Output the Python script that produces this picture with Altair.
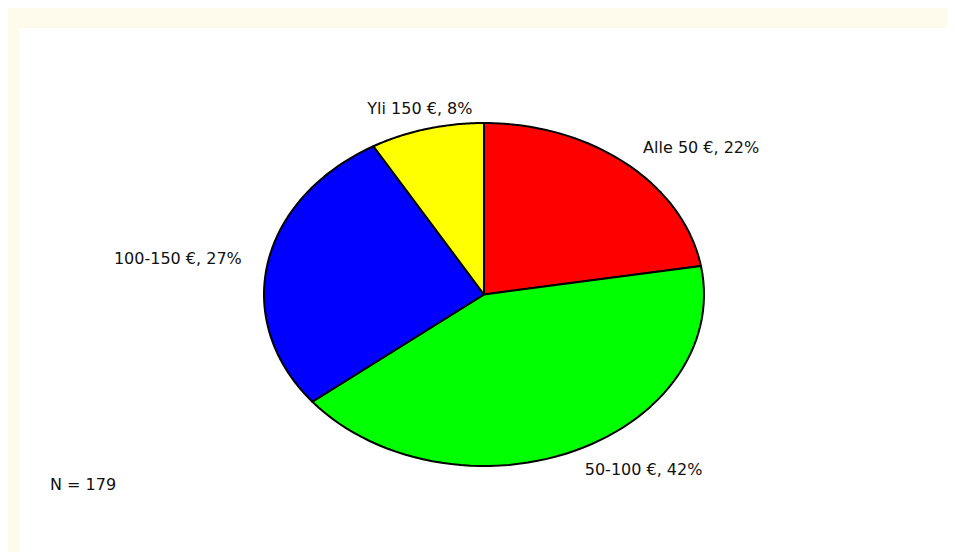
import altair as alt
import pandas as pd

# ---- data ----
categories = ["Alle 50 €", "50-100 €", "100-150 €", "Yli 150 €"]
counts = [40, 75, 49, 15]          # N = 179
percents = [22, 42, 27, 8]
colors = ["#FF0000", "#00FF00", "#0000FF", "#FFFF00"]
n_label = "N = 179"

df = pd.DataFrame({
    "cat": categories,
    "count": counts,
    "order": list(range(len(categories))),
    "label": [f"{c}, {p}%" for c, p in zip(categories, percents)],
})

W, H = 928, 524
RX, RY = 220, 171.5
CX, CY = 465, 266.5
xscale = alt.Scale(domain=[-CX / RX, (W - CX) / RX], nice=False, zero=False)
yscale = alt.Scale(domain=[-(H - CY) / RY, CY / RY], nice=False, zero=False)
cscale = alt.Scale(domain=categories, range=colors)

base = alt.Chart(df).transform_joinaggregate(
    total="sum(count)"
).transform_window(
    cum="sum(count)", sort=[alt.SortField("order")], frame=[None, 0]
).transform_calculate(
    a1="2*PI*(datum.cum - datum.count)/datum.total",
    a2="2*PI*datum.cum/datum.total",
)

slices = base.transform_calculate(
    step="sequence(0, 63)"
).transform_flatten(["step"]).transform_calculate(
    t="clamp((datum.step - 1)/60, 0, 1)",
).transform_calculate(
    ang="datum.a1 + (datum.a2 - datum.a1)*datum.t",
).transform_calculate(
    px="(datum.step == 0 || datum.step == 62) ? 0 : sin(datum.ang)",
    py="(datum.step == 0 || datum.step == 62) ? 0 : cos(datum.ang)",
).mark_line(stroke="black", strokeWidth=2, strokeJoin="round").encode(
    x=alt.X("px:Q", scale=xscale, axis=None),
    y=alt.Y("py:Q", scale=yscale, axis=None),
    fill=alt.Fill("cat:N", scale=cscale, legend=None),
    detail="cat:N",
    order=alt.Order("step:Q"),
)

lab = base.transform_calculate(
    mid="(datum.a1 + datum.a2)/2",
).transform_calculate(
    s="sin(datum.mid)",
    lx="1.12*sin(datum.mid)",
    ly="1.12*cos(datum.mid)",
)

FONT = "DejaVu Sans"

def text_layer(flt, align):
    return lab.transform_filter(flt).mark_text(
        align=align, baseline="middle", font=FONT, fontSize=16, color="#111111"
    ).encode(
        x=alt.X("lx:Q", scale=xscale, axis=None),
        y=alt.Y("ly:Q", scale=yscale, axis=None),
        text="label:N",
    )

left = text_layer("datum.s > 0.3", "left")
right = text_layer("datum.s < -0.3", "right")
center = text_layer("abs(datum.s) <= 0.3", "center")

n_text = alt.Chart(pd.DataFrame({"t": [n_label]})).mark_text(
    align="left", baseline="middle", font=FONT, fontSize=16, color="#111111"
).encode(x=alt.value(31), y=alt.value(457), text="t:N")

chart = alt.layer(slices, left, right, center, n_text).properties(
    width=W, height=H,
    background="#FFFBEC",
    padding={"left": 11, "top": 20, "right": 0, "bottom": 0},
).configure_view(fill="white", stroke=None)

chart.save("out.html", embed_options={"renderer": "svg", "actions": False})
